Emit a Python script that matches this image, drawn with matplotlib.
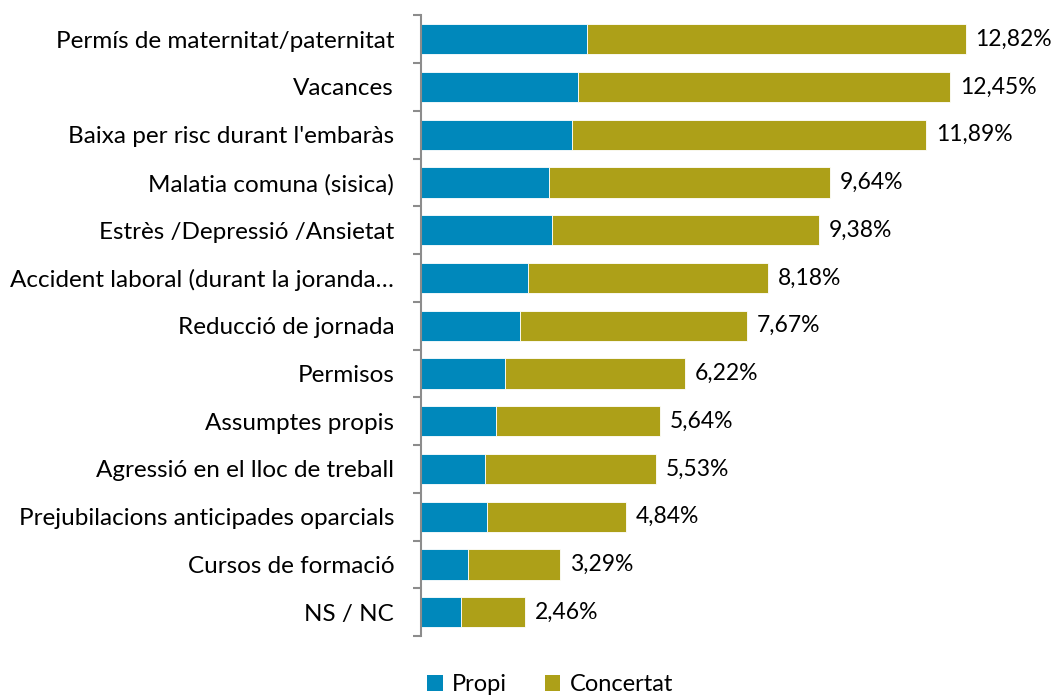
import matplotlib
matplotlib.use("Agg")
import matplotlib.pyplot as plt
from matplotlib.patches import Patch

categories = [
    "Permís de maternitat/paternitat",
    "Vacances",
    "Baixa per risc durant l'embaràs",
    "Malatia comuna (sisica)",
    "Estrès /Depressió /Ansietat",
    "Accident laboral (durant la joranda…",
    "Reducció de jornada",
    "Permisos",
    "Assumptes propis",
    "Agressió en el lloc de treball",
    "Prejubilacions anticipades oparcials",
    "Cursos de formació",
    "NS / NC",
]
totals = [12.82, 12.45, 11.89, 9.64, 9.38, 8.18, 7.67, 6.22, 5.64, 5.53, 4.84, 3.29, 2.46]
propi = [3.91, 3.70, 3.57, 3.02, 3.08, 2.52, 2.33, 1.98, 1.77, 1.51, 1.56, 1.11, 0.95]
concertat = [t - p for t, p in zip(totals, propi)]
total_labels = ["12,82%", "12,45%", "11,89%", "9,64%", "9,38%", "8,18%", "7,67%",
                "6,22%", "5,64%", "5,53%", "4,84%", "3,29%", "2,46%"]

BLUE = "#0088BB"
OLIVE = "#ADA018"
GRAY = "#8C8C8C"
FONT = "Lato"
FS = 17.5

fig = plt.figure(figsize=(10.54, 6.99), dpi=100)
ax = fig.add_axes([0.399, 0.09, 0.585, 0.888])

n = len(categories)
y = list(range(n))
h = 0.63
ax.barh(y, propi, height=h, color=BLUE, edgecolor="white", linewidth=0.6)
ax.barh(y, concertat, left=propi, height=h, color=OLIVE, edgecolor="white", linewidth=0.6)

for yi, t, lab in zip(y, totals, total_labels):
    ax.annotate(lab, xy=(t, yi), xytext=(7, 0), textcoords="offset points",
                va="center", ha="left", fontsize=16.5, family=FONT, color="black")

ax.set_ylim(n - 0.5, -0.5)
ax.set_xlim(0, 14.5)

ax.set_yticks(y)
ax.set_yticklabels(categories, fontsize=FS, family=FONT)
ax.tick_params(axis="y", which="major", length=0, pad=19)
ax.set_yticks([i - 0.5 for i in range(n + 1)], minor=True)
ax.tick_params(axis="y", which="minor", length=6, width=1.5, color=GRAY)

ax.set_xticks([])
for s in ["top", "right", "bottom"]:
    ax.spines[s].set_visible(False)
ax.spines["left"].set_color(GRAY)
ax.spines["left"].set_linewidth(1.5)

handles = [Patch(facecolor=BLUE, label="Propi"), Patch(facecolor=OLIVE, label="Concertat")]
fig.legend(handles=handles, loc="lower center", bbox_to_anchor=(0.522, -0.025), ncol=2,
           frameon=False, prop={"family": FONT, "size": 17},
           handlelength=0.65, handleheight=0.65, handletextpad=0.4, columnspacing=1.6)

fig.savefig("out.png", dpi=100, facecolor="white")
